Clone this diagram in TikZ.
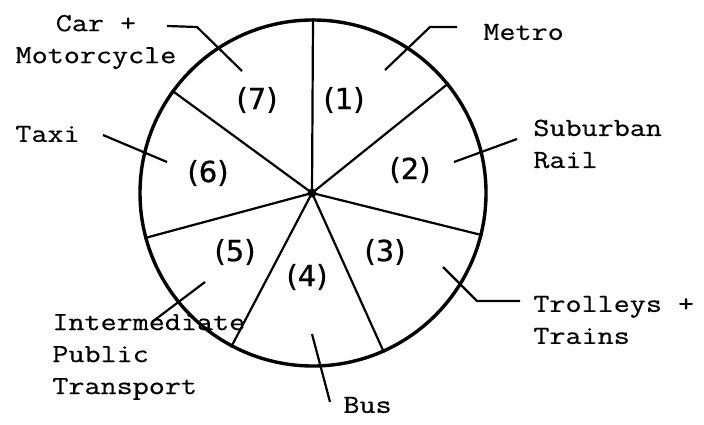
\documentclass[tikz,border=0pt]{standalone}
\usepackage{fontspec}
\setmonofont{Latin Modern Mono}[FakeStretch=1.2, FakeBold=0.5]
\newfontfamily\numfont{DejaVu Sans}[FakeBold=0.8]
\usetikzlibrary{positioning}

\begin{document}
\begin{tikzpicture}[
        x=0.5pt, y=0.5pt,
        font=\ttfamily\fontsize{13}{16}\selectfont,
        wheel/.style={
            draw,
            circle,
            line width=1.7pt,
            minimum size=173pt,
            inner sep=0pt
        },
        hubdot/.style={
            circle,
            fill,
            minimum size=4.5pt,
            inner sep=0pt
        },
        spoke/.style={
            line width=1.1pt
        },
        share/.style={
            font=\numfont\fontsize{14.5}{16}\selectfont,
            inner sep=0pt
        },
        mode/.style={
            align=left,
            inner sep=0pt
        },
        leader/.style={
            line width=1.1pt
        }
    ]
    \useasboundingbox (0,0) rectangle (704,424);

    \node[wheel] (wheel) at (313,231) {};
    \node[hubdot] (hub) at (312,231) {};

    \foreach \a in {90,39,-14,-66,-118,-165,144}
        \draw[spoke] (hub.center) -- (wheel.\a);

    \node[share] (s1) at (344,324) {(1)};
    \node[share] (s2) at (410,254) {(2)};
    \node[share] (s3) at (385,172) {(3)};
    \node[share] (s4) at (307,147) {(4)};
    \node[share] (s5) at (235,172) {(5)};
    \node[share] (s6) at (208,251) {(6)};
    \node[share] (s7) at (257,324) {(7)};

    \node[mode, anchor=west] (metro) at (483,392) {Metro};
    \node[mode, anchor=west] (suburban) at (533,280) {Suburban\\Rail};
    \node[mode, anchor=west] (trolleys) at (533,104) {Trolleys +\\Trains};
    \node[mode, anchor=west] (bus) at (343,19) {Bus};
    \node[mode, anchor=west] (ipt) at (52,67) {Intermediate\\Public\\Transport};
    \node[mode, anchor=west] (taxi) at (15,290) {Taxi};
    \node[mode, align=center] (car) at (96,382) {Car +\\Motorcycle};

    \coordinate (metro tip) at (385,354);
    \coordinate (suburban tip) at (454,262);
    \coordinate (trolleys tip) at (443,157);
    \coordinate (bus tip) at (312,90);
    \coordinate (ipt tip) at (205,142);
    \coordinate (taxi tip) at (167,262);
    \coordinate (car tip) at (242,353);

    \draw[leader] (metro tip) -- ++(45,43) -- ++(27,0);
    \draw[leader] (suburban tip) -- ++(63,23);
    \draw[leader] (trolleys tip) -- ++(34,-34) -- ++(43,0);
    \draw[leader] (bus tip) -- ++(18,-68);
    \draw[leader] (ipt tip) -- ++(-53,-40);
    \draw[leader] (taxi tip) -- ++(-64,27);
    \draw[leader] (car tip) -- ++(-45,44) -- ++(-30,1);
    \end{tikzpicture}
\end{document}
